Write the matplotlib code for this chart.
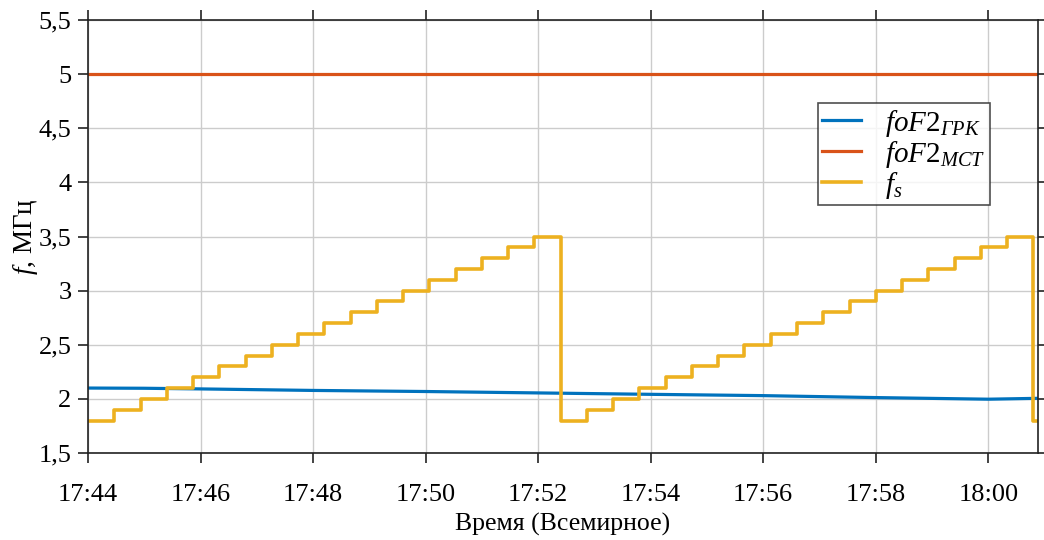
from datetime import datetime

import matplotlib

matplotlib.use("Agg")
import matplotlib.dates as mdates
import matplotlib.pyplot as plt
from matplotlib.ticker import FuncFormatter, MultipleLocator

plt.rcParams["font.family"] = ["Liberation Serif", "DejaVu Serif"]
plt.rcParams["mathtext.fontset"] = "custom"
plt.rcParams["mathtext.it"] = "Liberation Serif:italic"
plt.rcParams["mathtext.rm"] = "Liberation Serif"

# f_s step levels (start time of each step, level in MHz)
fs_times = [
    "17:44:00", "17:44:28", "17:44:56", "17:45:24", "17:45:52", "17:46:20",
    "17:46:48", "17:47:16", "17:47:44", "17:48:12", "17:48:40", "17:49:08",
    "17:49:36", "17:50:04", "17:50:32", "17:51:00", "17:51:28", "17:51:56",
    "17:52:24", "17:52:52", "17:53:20", "17:53:48", "17:54:16", "17:54:44",
    "17:55:12", "17:55:40", "17:56:08", "17:56:36", "17:57:04", "17:57:32",
    "17:58:00", "17:58:28", "17:58:56", "17:59:24", "17:59:52", "18:00:20",
    "18:00:48", "18:00:53",
]
fs_values = [
    1.8, 1.9, 2.0, 2.1, 2.2, 2.3, 2.4, 2.5, 2.6, 2.7, 2.8, 2.9,
    3.0, 3.1, 3.2, 3.3, 3.4, 3.5,
    1.8, 1.9, 2.0, 2.1, 2.2, 2.3, 2.4, 2.5, 2.6, 2.7, 2.8, 2.9,
    3.0, 3.1, 3.2, 3.3, 3.4, 3.5,
    1.8, 1.8,
]

# foF2 from ГРК
grk_times = ["17:44:00", "17:45:00", "17:46:00", "17:48:00", "17:50:00", "17:52:00",
             "17:54:00", "17:56:00", "17:58:00", "18:00:00", "18:00:53"]
grk_values = [2.100, 2.098, 2.092, 2.078, 2.068, 2.055, 2.042, 2.030, 2.012, 1.997, 2.005]

# foF2 from МСТ
mst_times = ["17:44:00", "18:00:53"]
mst_values = [5.0, 5.0]


def _t(values):
    return [datetime.strptime("2020-01-01 " + v, "%Y-%m-%d %H:%M:%S") for v in values]


fig = plt.figure(figsize=(10.44, 5.40), dpi=100)
ax = fig.add_axes([88 / 1044, 1 - 453 / 540, 950 / 1044, 433 / 540])

ax.plot(_t(grk_times), grk_values, color="#0072BD", linewidth=2.3, label=r"$foF2_{ГРК}$")
ax.plot(_t(mst_times), mst_values, color="#D95319", linewidth=2.3, label=r"$foF2_{МСТ}$")
ax.step(_t(fs_times), fs_values, where="post", color="#EDB120", linewidth=2.6, label=r"$f_{s}$")

ax.set_xlim(_t(["17:44:00", "18:00:53"]))
ax.set_ylim(1.5, 5.5)
ax.yaxis.set_major_locator(MultipleLocator(0.5))
ax.yaxis.set_major_formatter(FuncFormatter(lambda v, p: f"{v:g}".replace(".", ",")))
ax.xaxis.set_major_locator(mdates.MinuteLocator(byminute=range(0, 60, 2)))
ax.xaxis.set_major_formatter(mdates.DateFormatter("%H:%M"))

ax.grid(True, color="#cccccc", linewidth=1.0)
ax.set_axisbelow(True)
ax.tick_params(direction="out", length=7, width=1.2, labelsize=19, top=True, right=True,
               labeltop=False, labelright=False, colors="#222222")
ax.tick_params(axis="both", labelcolor="black")
ax.tick_params(axis="x", pad=15)
ax.tick_params(axis="y", pad=5)
for s in ax.spines.values():
    s.set_color("#222222")
    s.set_linewidth(1.2)

ax.set_xlabel("Время (Всемирное)", fontsize=18.5, labelpad=5)
ax.set_ylabel(r"$f$, МГц", fontsize=19.5, va="center")
ax.yaxis.set_label_coords(-0.066, 0.5)

leg = ax.legend(loc="upper right", bbox_to_anchor=(0.949, 0.808), fontsize=21,
                frameon=True, fancybox=False, handlelength=1.35, handletextpad=0.8,
                borderpad=0.15, borderaxespad=0, labelspacing=0.0)
leg.get_frame().set_edgecolor("#222222")
leg.get_frame().set_linewidth(1.2)

fig.savefig("out.png", dpi=100)
